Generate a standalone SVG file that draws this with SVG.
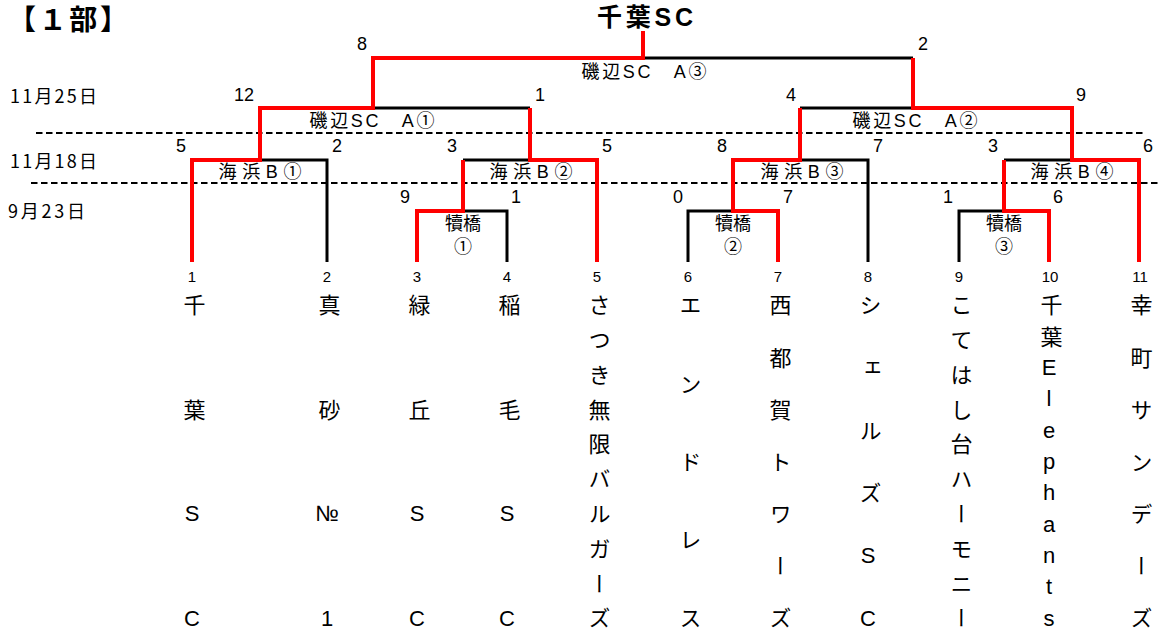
<svg xmlns="http://www.w3.org/2000/svg" width="1159" height="634" viewBox="0 0 1159 634">
<style>
.bk{stroke:#000;stroke-width:3;fill:none}
.rd{stroke:#ff0000;stroke-width:4;fill:none}
.ds{stroke:#000;stroke-width:2;stroke-dasharray:6.5 3.5;fill:none}
text{font-family:"Liberation Sans","Noto Sans CJK JP",sans-serif;fill:#000;dominant-baseline:central}
.hd{font-family:"Noto Sans CJK JP",sans-serif;font-size:28px;font-weight:bold}
.sc{font-size:18px;text-anchor:middle}
.ln{font-size:15px;text-anchor:middle}
.lb{font-size:18px;text-anchor:middle}
.dt{font-family:"Noto Sans CJK JP",sans-serif;font-size:18px}
.tm{font-size:22px;text-anchor:middle;writing-mode:vertical-rl;text-orientation:upright}
</style>
<g id="header">
<text class="hd" x="8" y="18" textLength="120" lengthAdjust="spacing">【１部】</text>
<text x="645" y="17" font-size="25" font-weight="bold" text-anchor="middle" textLength="96" lengthAdjust="spacing">千葉SC</text>
</g>
<g id="dates">
<text class="dt" x="10" y="95" textLength="87" lengthAdjust="spacing">11月25日</text>
<text class="dt" x="10" y="159.5" textLength="87" lengthAdjust="spacing">11月18日</text>
<text class="dt" x="8" y="210" textLength="77" lengthAdjust="spacing">9月23日</text>
</g>
<g id="dividers">
<line class="ds" x1="36" y1="133" x2="1143" y2="133"/>
<line class="ds" x1="31" y1="183" x2="1159" y2="183"/>
</g>
<g id="connectors">
<path class="bk" d="M327,262V160H260"/>
<path class="bk" d="M463,160H530"/>
<path class="bk" d="M868,262V160H800"/>
<path class="bk" d="M1004,160H1072"/>
<path class="bk" d="M507,262V211H463"/>
<path class="bk" d="M688,262V211H733"/>
<path class="bk" d="M959,262V211H1004"/>
<path class="bk" d="M373,108H530"/>
<path class="bk" d="M800,108H913"/>
<path class="bk" d="M643,58H913"/>
<path class="rd" d="M192,262V160H260V108H373V58H643V31"/>
<path class="rd" d="M597,262V160H530V108"/>
<path class="rd" d="M417,262V211H463V160"/>
<path class="rd" d="M778,262V211H733V160H800V108"/>
<path class="rd" d="M1139,262V160H1072V108H913V58"/>
<path class="rd" d="M1049,262V211H1004V160"/>
</g>
<g id="match-final">
<text class="lb" x="644" y="72" textLength="125" lengthAdjust="spacing">磯辺SC　A③</text>
<text class="sc" x="362" y="44">8</text>
<text class="sc" x="923" y="44">2</text>
</g>
<g id="match-A1">
<text class="lb" x="372" y="121" textLength="125" lengthAdjust="spacing">磯辺SC　A①</text>
<text class="sc" x="244" y="95">12</text>
<text class="sc" x="540" y="95">1</text>
</g>
<g id="match-A2">
<text class="lb" x="915" y="121" textLength="125" lengthAdjust="spacing">磯辺SC　A②</text>
<text class="sc" x="791" y="95">4</text>
<text class="sc" x="1081" y="95">9</text>
</g>
<g id="match-B1">
<text class="lb" x="260" y="171.5" textLength="83" lengthAdjust="spacing">海浜B①</text>
<text class="sc" x="181" y="145.5">5</text>
<text class="sc" x="337" y="145.5">2</text>
</g>
<g id="match-B2">
<text class="lb" x="531" y="171.5" textLength="83" lengthAdjust="spacing">海浜B②</text>
<text class="sc" x="452" y="145.5">3</text>
<text class="sc" x="607" y="145.5">5</text>
</g>
<g id="match-B3">
<text class="lb" x="802" y="171.5" textLength="83" lengthAdjust="spacing">海浜B③</text>
<text class="sc" x="722" y="145.5">8</text>
<text class="sc" x="878" y="145.5">7</text>
</g>
<g id="match-B4">
<text class="lb" x="1072" y="171.5" textLength="83" lengthAdjust="spacing">海浜B④</text>
<text class="sc" x="993" y="145.5">3</text>
<text class="sc" x="1148" y="145.5">6</text>
</g>
<g id="match-K1">
<text class="lb"><tspan x="463" y="223.5">犢橋</tspan><tspan x="463" y="246.5">①</tspan></text>
<text class="sc" x="405" y="196.5">9</text>
<text class="sc" x="516" y="196.5">1</text>
</g>
<g id="match-K2">
<text class="lb"><tspan x="733" y="223.5">犢橋</tspan><tspan x="733" y="246.5">②</tspan></text>
<text class="sc" x="678" y="196.5">0</text>
<text class="sc" x="788" y="196.5">7</text>
</g>
<g id="match-K3">
<text class="lb"><tspan x="1004" y="223.5">犢橋</tspan><tspan x="1004" y="246.5">③</tspan></text>
<text class="sc" x="948" y="196.5">1</text>
<text class="sc" x="1058" y="196.5">6</text>
</g>
<g id="team1"><text class="ln" x="192" y="276">1</text><text class="tm" x="192" y="305 409.3 513.7 618">千葉SC</text></g>
<g id="team2"><text class="ln" x="327" y="276">2</text><text class="tm" x="327" y="305 409.3 513.7 618">真砂№1</text></g>
<g id="team3"><text class="ln" x="417" y="276">3</text><text class="tm" x="417" y="305 409.3 513.7 618">緑丘SC</text></g>
<g id="team4"><text class="ln" x="507" y="276">4</text><text class="tm" x="507" y="305 409.3 513.7 618">稲毛SC</text></g>
<g id="team5"><text class="ln" x="597" y="276">5</text><text class="tm" x="597" y="305 339.8 374.6 409.3 444.1 478.9 513.7 548.4 583.2 618">さつき無限バルガーズ</text></g>
<g id="team6"><text class="ln" x="688" y="276">6</text><text class="tm" x="688" y="305 383.3 461.5 539.8 618">エンドレス</text></g>
<g id="team7"><text class="ln" x="778" y="276">7</text><text class="tm" x="778" y="305 357.2 409.3 461.5 513.7 565.8 618">西都賀トワーズ</text></g>
<g id="team8"><text class="ln" x="868" y="276">8</text><text class="tm" x="868" y="305 367.6 430.2 492.8 555.4 618">シェルズSC</text></g>
<g id="team9"><text class="ln" x="959" y="276">9</text><text class="tm" x="959" y="305 339.8 374.6 409.3 444.1 478.9 513.7 548.4 583.2 618">こてはし台ハーモニー</text></g>
<g id="team10"><text class="ln" x="1050" y="276">10</text><text class="tm" x="1049" y="305 336.3 367.6 398.9 430.2 461.5 492.8 524.1 555.4 586.7 618">千葉Elephants</text></g>
<g id="team11"><text class="ln" x="1140" y="276">11</text><text class="tm" x="1139" y="305 357.2 409.3 461.5 513.7 565.8 618">幸町サンデーズ</text></g>
</svg>
